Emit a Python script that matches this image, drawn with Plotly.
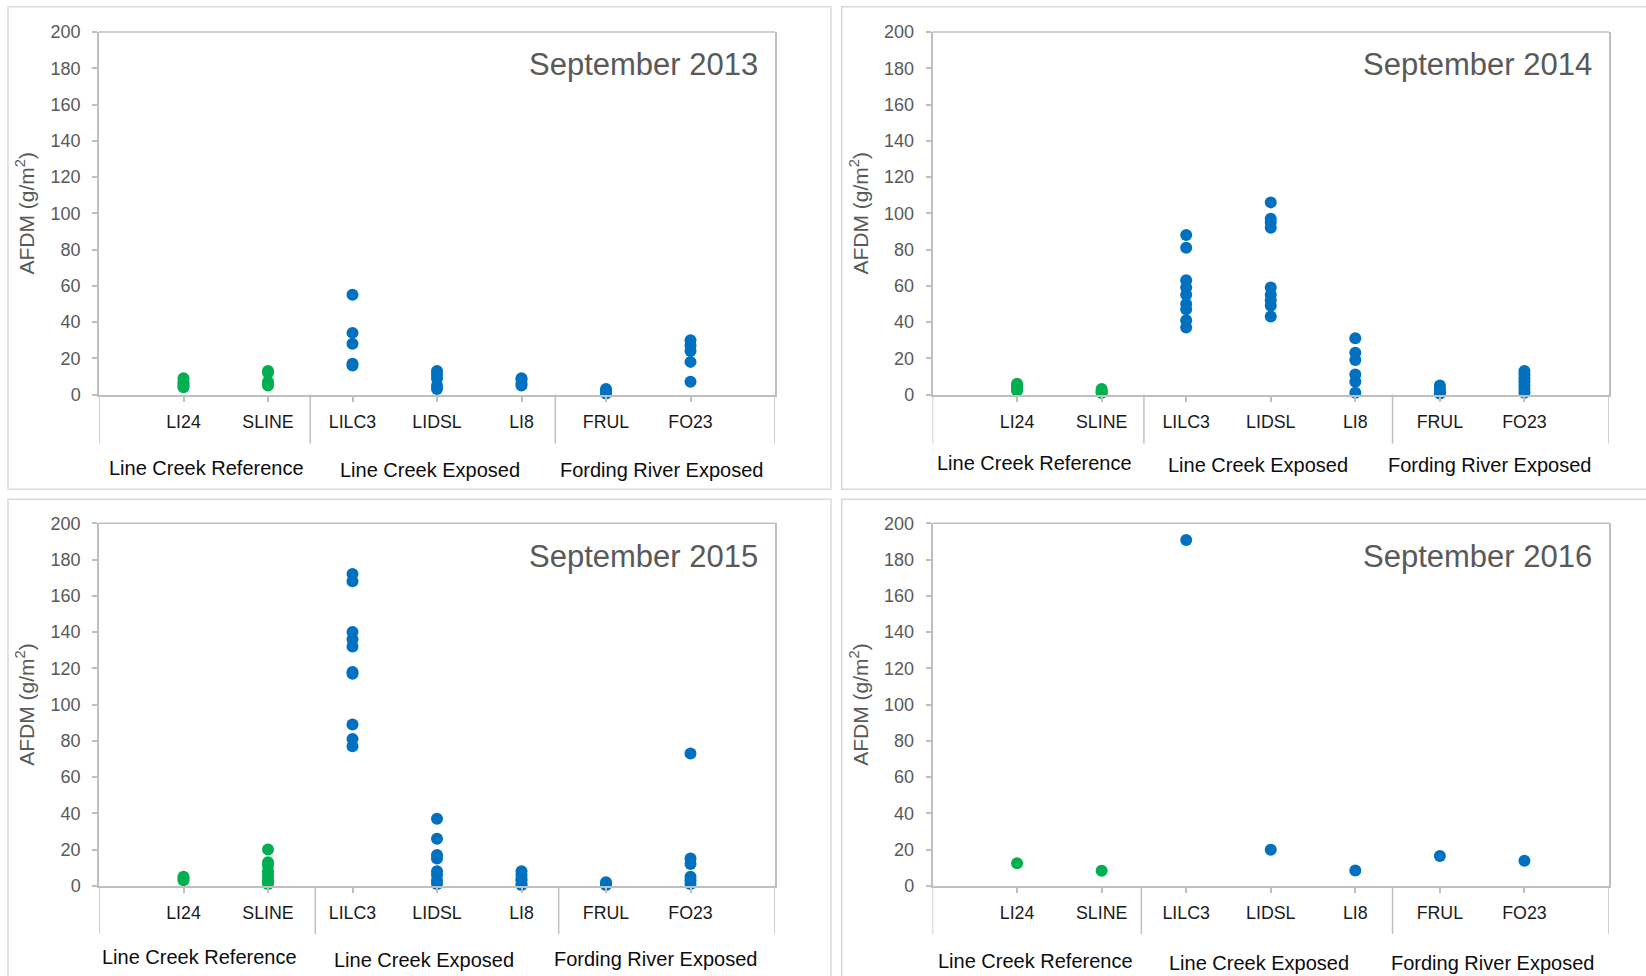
import plotly.graph_objects as go

# ---------------- data ----------------
categories = ["LI24", "SLINE", "LILC3", "LIDSL", "LI8", "FRUL", "FO23"]
reference_sites = ["LI24", "SLINE"]
groups = ["Line Creek Reference", "Line Creek Exposed", "Fording River Exposed"]
panel_titles = ["September 2013", "September 2014", "September 2015", "September 2016"]

# AFDM (g/m2) values per site, in category order
afdm_2013 = [
    [9, 7, 6, 5, 4],
    [13, 12, 7, 6, 5],
    [55, 34, 28, 17, 16],
    [13, 11, 9, 5, 3],
    [9, 8, 6, 5],
    [3, 2, 1, 0.5],
    [30, 27, 24, 18, 7],
]
afdm_2014 = [
    [6, 5, 4, 3, 2],
    [3, 2, 1, 1],
    [88, 81, 63, 59, 55, 50, 47, 41, 37],
    [106, 97, 95, 92, 59, 55, 52, 49, 43],
    [31, 23, 19, 11, 7, 1],
    [5, 3, 2, 1, 0.5],
    [13, 11, 9, 7, 5, 3, 1],
]
afdm_2015 = [
    [5, 4, 3],
    [20, 13, 11, 8, 6, 4, 2, 1],
    [172, 168, 140, 136, 132, 118, 117, 89, 81, 77],
    [37, 26, 17, 15, 8, 6, 3, 1],
    [8, 6, 4, 3, 1, 0.5],
    [2, 1, 0.5],
    [73, 15, 12, 5, 3, 1],
]
afdm_2016 = [
    [12.5],
    [8.3],
    [190.8],
    [19.9],
    [8.5],
    [16.4],
    [13.8],
]
panel_data = [afdm_2013, afdm_2014, afdm_2015, afdm_2016]

# ---------------- styling / layout ----------------
W, H = 1646, 976
GREEN = "#00B050"
BLUE = "#0070C0"
AXIS_GRAY = "#BFBFBF"
BOX_GRAY = "#D9D9D9"
TEXT_GRAY = "#595959"
FONT = "Arial, Liberation Sans, sans-serif"


def px_x(p):
    return p / W


def px_y(p):
    return 1 - p / H


# plot-area pixel boxes: (left, right, top, bottom)
plot_boxes = [
    (99, 775, 32, 394.5),
    (932.5, 1609, 32, 394.5),
    (99, 775, 523.3, 885.8),
    (932.5, 1609, 523.3, 885.8),
]
outer_boxes = [
    (8, 831, 6.7, 489.3),
    (841.7, 1652, 6.7, 489.3),
    (8, 831, 499.3, 982),
    (841.7, 1652, 499.3, 982),
]
divider_x = [
    [0, 2.5, 5.4, 8],
    [0, 2.5, 5.44, 8],
    [0, 2.56, 5.44, 8],
    [0, 2.47, 5.44, 8],
]
divider_bottom = [443.5, 443.5, 934, 934]
group_label_pos = [
    [(206.5, 467.5), (430, 470), (661.7, 470)],
    [(1034, 463.3), (1257.8, 465), (1489.9, 465)],
    [(199.6, 956.7), (423.5, 959.5), (655.4, 959)],
    [(1035, 960.7), (1258.8, 963), (1492, 963)],
]
title_pos = [(759.5, 65), (1594, 65), (759.5, 556.7), (1594, 556.7)]

fig = go.Figure()
shapes = []
annotations = []

for i, data in enumerate(panel_data):
    n = i + 1
    xa = "x" if n == 1 else f"x{n}"
    ya = "y" if n == 1 else f"y{n}"
    ref_x, ref_y, exp_x, exp_y = [], [], [], []
    for ci, (cat, vals) in enumerate(zip(categories, data)):
        for v in vals:
            if cat in reference_sites:
                ref_x.append(ci + 1)
                ref_y.append(v)
            else:
                exp_x.append(ci + 1)
                exp_y.append(v)
    fig.add_trace(go.Scatter(x=ref_x, y=ref_y, mode="markers", xaxis=xa, yaxis=ya,
                             marker=dict(color=GREEN, size=12), cliponaxis=False,
                             showlegend=False, hoverinfo="skip"))
    fig.add_trace(go.Scatter(x=exp_x, y=exp_y, mode="markers", xaxis=xa, yaxis=ya,
                             marker=dict(color=BLUE, size=12), cliponaxis=False,
                             showlegend=False, hoverinfo="skip"))

    l, r, t, b = plot_boxes[i]
    xkey = "xaxis" if n == 1 else f"xaxis{n}"
    ykey = "yaxis" if n == 1 else f"yaxis{n}"
    fig.update_layout(**{
        xkey: dict(
            domain=[px_x(l), px_x(r)], anchor=ya, range=[0, 8], automargin=False,
            tickmode="array", tickvals=list(range(1, len(categories) + 1)),
            ticktext=categories, ticks="outside", ticklen=5, tickwidth=1.5,
            tickcolor=AXIS_GRAY, showline=True, linecolor=AXIS_GRAY, linewidth=2,
            showgrid=False, zeroline=False, ticklabelstandoff=5,
            tickfont=dict(family=FONT, size=17.8, color="#1A1A1A"), fixedrange=True,
        ),
        ykey: dict(
            domain=[px_y(b), px_y(t)], anchor=xa, range=[0, 200], dtick=20,
            automargin=False,
            ticks="outside", ticklen=5, tickwidth=1.5, tickcolor=AXIS_GRAY,
            showline=True, linecolor=AXIS_GRAY, linewidth=1.5, mirror=True,
            showgrid=False, zeroline=False, ticklabelstandoff=8,
            tickfont=dict(family=FONT, size=18, color=TEXT_GRAY),
            title=dict(text="AFDM (g/m<sup>2</sup>)", standoff=10,
                       font=dict(family=FONT, size=21, color=TEXT_GRAY)),
            fixedrange=True,
        ),
    })

    # plot-area top border
    shapes.append(dict(type="line", xref=f"{xa} domain", yref=f"{ya} domain",
                       x0=0, x1=1, y0=1, y1=1,
                       line=dict(color=AXIS_GRAY, width=1.5)))
    # category-group dividers below the axis
    for dx in divider_x[i]:
        shapes.append(dict(type="line", xref=xa, yref="paper",
                           x0=dx, x1=dx, y0=px_y(b), y1=px_y(divider_bottom[i]),
                           line=dict(color=AXIS_GRAY, width=1.5)))
    # outer chart border
    ol, orr, ot, ob = outer_boxes[i]
    shapes.append(dict(type="rect", xref="paper", yref="paper",
                       x0=px_x(ol), x1=px_x(orr), y0=px_y(ob), y1=px_y(ot),
                       line=dict(color=BOX_GRAY, width=1.5), fillcolor="rgba(0,0,0,0)",
                       layer="below"))
    # group labels
    for g, (gx, gy) in zip(groups, group_label_pos[i]):
        annotations.append(dict(text=g, xref="paper", yref="paper",
                                x=px_x(gx), y=px_y(gy), xanchor="center", yanchor="middle",
                                showarrow=False,
                                font=dict(family=FONT, size=20, color="#0D0D0D")))
    # panel title
    tx, ty = title_pos[i]
    annotations.append(dict(text=panel_titles[i], xref="paper", yref="paper",
                            x=px_x(tx), y=px_y(ty), xanchor="right", yanchor="middle",
                            showarrow=False,
                            font=dict(family=FONT, size=31, color=TEXT_GRAY)))

fig.update_layout(
    width=W, height=H, margin=dict(l=0, r=0, t=0, b=0, autoexpand=False),
    paper_bgcolor="white", plot_bgcolor="white",
    shapes=shapes, annotations=annotations, showlegend=False,
)

# let the figure fill the page exactly (no default body margin / scrollbars)
fig.write_html(
    "out.html",
    config={"displayModeBar": False},
    post_script="document.body.style.margin='0';document.body.style.overflow='hidden';",
)
